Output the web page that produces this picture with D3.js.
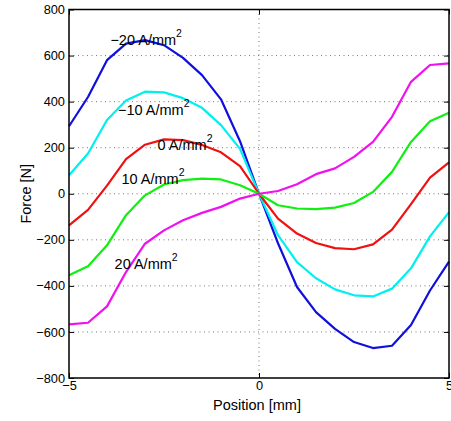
<!DOCTYPE html>
<html>
<head>
<meta charset="utf-8">
<script src="https://cdn.jsdelivr.net/npm/d3@7"></script>
<style>
  body { margin: 0; background: #fff; }
  text { font-family: "Liberation Sans", Arial, sans-serif; fill: #000; }
</style>
</head>
<body>
<div id="chart"></div>
<script>
// positions in mm
const positions = [-5, -4.5, -4, -3.5, -3, -2.5, -2, -1.5, -1, -0.5, 0, 0.5, 1, 1.5, 2, 2.5, 3, 3.5, 4, 4.5, 5];

// force [N] for each current density
const forceMinus20 = [293, 420, 580, 652, 667, 645, 590, 515, 410, 228, 0, -215, -405, -514, -587, -644, -670, -660, -570, -420, -295];
const forceMinus10 = [80, 175, 320, 405, 443, 440, 415, 373, 298, 195, 0, -180, -297, -367, -415, -441, -446, -412, -324, -185, -80];
const force0 = [-137, -70, 35, 150, 213, 236, 233, 212, 180, 120, 0, -108, -173, -214, -236, -241, -220, -156, -45, 70, 136];
const force10 = [-354, -315, -224, -93, -7, 40, 59, 66, 62, 37, 0, -50, -64, -67, -60, -40, 8, 95, 225, 315, 352];
const force20 = [-567, -560, -489, -340, -217, -159, -115, -83, -57, -21, 0, 12, 41, 85, 110, 160, 225, 334, 486, 559, 566];

const seriesNames = ["−20", "−10", "0", "10", "20"];
const xTicks = [-5, 0, 5];
const yTicks = [-800, -600, -400, -200, 0, 200, 400, 600, 800];

const series = [
  { name: seriesNames[0], values: forceMinus20, color: "#1010dc", label: [-3.91, 645] },
  { name: seriesNames[1], values: forceMinus10, color: "#00f0f0", label: [-3.71, 341] },
  { name: seriesNames[2], values: force0, color: "#f01010", label: [-2.67, 189] },
  { name: seriesNames[3], values: force10, color: "#10f010", label: [-3.62, 44] },
  { name: seriesNames[4], values: force20, color: "#f010f0", label: [-3.80, -325] }
];

const margin = { top: 9.5, right: 2, bottom: 43, left: 69 };
const width = 451 - margin.left - margin.right;
const height = 421 - margin.top - margin.bottom;

const svg = d3.select("#chart")
  .append("svg")
  .attr("width", 451)
  .attr("height", 421)
  .append("g")
  .attr("transform", `translate(${margin.left},${margin.top})`);

const x = d3.scaleLinear().domain([-5, 5]).range([0, width]);
const y = d3.scaleLinear().domain([-800, 800]).range([height, 0]);

// dotted grid
svg.append("g")
  .selectAll("line")
  .data(yTicks.slice(1, -1))
  .enter().append("line")
  .attr("x1", 0).attr("x2", width)
  .attr("y1", d => y(d)).attr("y2", d => y(d))
  .attr("stroke", "#777").attr("stroke-width", 1)
  .attr("stroke-dasharray", "1,3.5");

svg.append("g")
  .selectAll("line")
  .data(xTicks.slice(1, -1))
  .enter().append("line")
  .attr("x1", d => x(d)).attr("x2", d => x(d))
  .attr("y1", 0).attr("y2", height)
  .attr("stroke", "#777").attr("stroke-width", 1)
  .attr("stroke-dasharray", "1,3.5");

// curves
const line = d3.line()
  .x((d, i) => x(positions[i]))
  .y(d => y(d));

svg.selectAll(".curve")
  .data(series)
  .enter().append("path")
  .attr("class", "curve")
  .attr("d", d => line(d.values))
  .attr("fill", "none")
  .attr("stroke", d => d.color)
  .attr("stroke-width", 2.2)
  .attr("stroke-linejoin", "round");

// curve labels
const labels = svg.selectAll(".lbl")
  .data(series)
  .enter().append("text")
  .attr("class", "lbl")
  .attr("x", d => x(d.label[0]))
  .attr("y", d => y(d.label[1]))
  .style("font-size", "14.5px");
labels.append("tspan").text(d => `${d.name} A/mm`);
labels.append("tspan").text("2").style("font-size", "10.5px").attr("dy", -8);

// axes, MATLAB style ticks pointing inward
const tickLen = 5;
const axisLeft = d3.axisLeft(y).tickValues(yTicks).tickSizeInner(-tickLen).tickSizeOuter(0).tickPadding(4)
  .tickFormat(d => d < 0 ? "−" + Math.abs(d) : d);
const axisRight = d3.axisRight(y).tickValues(yTicks).tickSizeInner(-tickLen).tickSizeOuter(0).tickFormat("");
const axisBottom = d3.axisBottom(x).tickValues(xTicks).tickSizeInner(-tickLen).tickSizeOuter(0).tickPadding(2.5)
  .tickFormat(d => d < 0 ? "−" + Math.abs(d) : d);
const axisTop = d3.axisTop(x).tickValues(xTicks).tickSizeInner(-tickLen).tickSizeOuter(0).tickFormat("");

const gl = svg.append("g").call(axisLeft);
const gr = svg.append("g").attr("transform", `translate(${width},0)`).call(axisRight);
const gb = svg.append("g").attr("transform", `translate(0,${height})`).call(axisBottom);
const gt = svg.append("g").call(axisTop);

[gl, gr, gb, gt].forEach(g => {
  g.select(".domain").remove();
  g.selectAll("line").attr("stroke", "#000").attr("stroke-width", 1);
  g.selectAll("text").style("font-size", "12.8px").style("font-family", "'Liberation Sans', Arial, sans-serif").attr("fill", "#000");
});

// box
svg.append("rect")
  .attr("x", 0).attr("y", 0)
  .attr("width", width).attr("height", height)
  .attr("fill", "none")
  .attr("stroke", "#000")
  .attr("stroke-width", 1.5);

// axis titles
svg.append("text")
  .attr("x", width / 2 - 2)
  .attr("y", height + 32)
  .attr("text-anchor", "middle")
  .style("font-size", "14.5px")
  .text("Position [mm]");

svg.append("text")
  .attr("transform", `translate(${31 - margin.left},${height / 2}) rotate(-90)`)
  .attr("text-anchor", "middle")
  .style("font-size", "14.5px")
  .text("Force [N]");
</script>
</body>
</html>
